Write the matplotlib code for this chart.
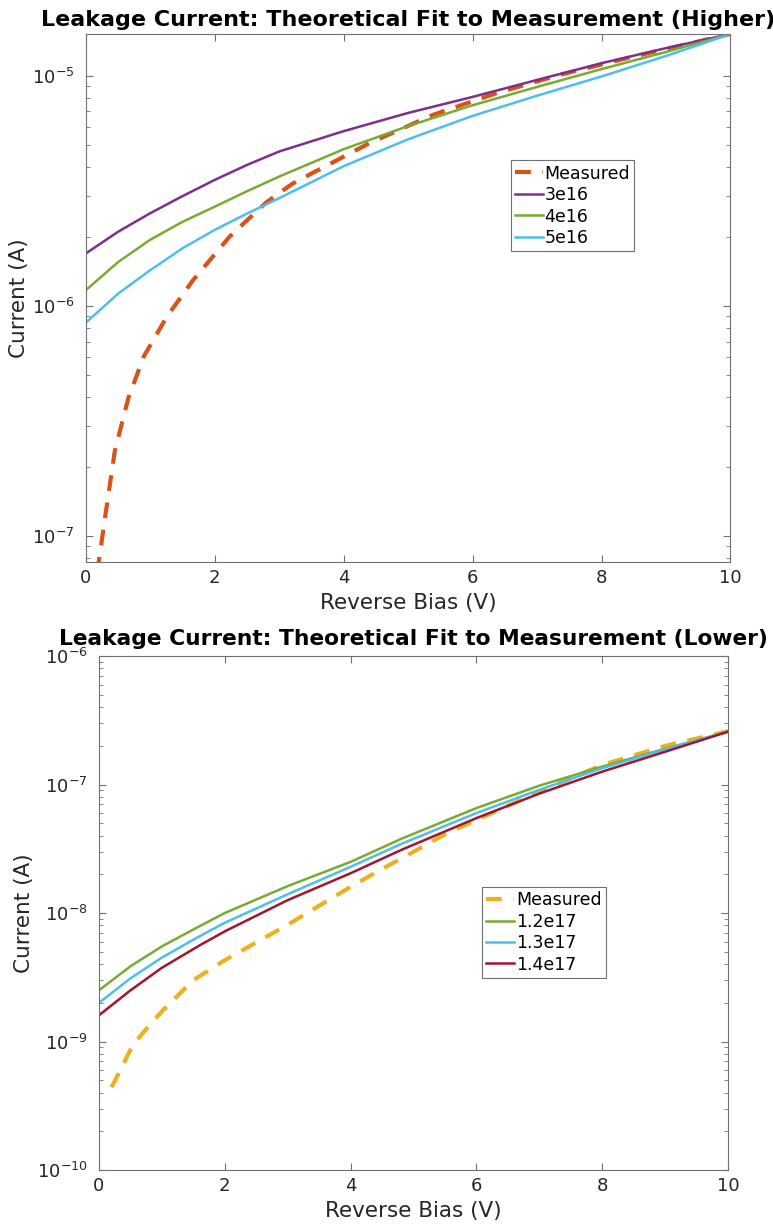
import numpy as np
import matplotlib
matplotlib.use('Agg')
import matplotlib.pyplot as plt
from matplotlib.ticker import LogLocator, LogFormatterSciNotation, NullFormatter

# ---- data ----
# upper panel (higher doping)
v_meas_hi = [0.12, 0.2, 0.3, 0.45, 0.66, 0.9, 1.25, 1.66, 2.23, 2.8, 3.2, 3.5,
             4.4, 5.38, 6.37, 7.35, 8.48, 10.0]
i_meas_hi = [4.0e-8, 7.7e-8, 1.21e-7, 2.34e-7, 3.98e-7, 6.03e-7, 8.91e-7, 1.29e-6, 2.0e-6,
             2.82e-6, 3.39e-6, 3.76e-6, 5.1e-6, 6.76e-6, 8.41e-6, 1.01e-5, 1.21e-5, 1.52e-5]

v_fit_hi = [0, 0.5, 1, 1.5, 2, 2.5, 3, 4, 5, 6, 7, 8, 9, 10]
i_3e16 = [1.69e-6, 2.1e-6, 2.53e-6, 3.0e-6, 3.53e-6, 4.1e-6, 4.69e-6, 5.75e-6, 6.9e-6,
          8.1e-6, 9.6e-6, 1.135e-5, 1.32e-5, 1.52e-5]
i_4e16 = [1.17e-6, 1.55e-6, 1.94e-6, 2.32e-6, 2.7e-6, 3.15e-6, 3.65e-6, 4.8e-6, 6.05e-6,
          7.45e-6, 8.95e-6, 1.07e-5, 1.27e-5, 1.52e-5]
i_5e16 = [8.45e-7, 1.13e-6, 1.43e-6, 1.78e-6, 2.14e-6, 2.52e-6, 2.94e-6, 4.05e-6, 5.3e-6,
          6.7e-6, 8.2e-6, 9.94e-6, 1.22e-5, 1.52e-5]

# lower panel (lower doping)
v_meas_lo = [0.2, 0.54, 0.7, 1.02, 1.5, 2, 3, 4, 4.5, 5, 5.5, 6, 7, 8, 9, 10]
i_meas_lo = [4.4e-10, 9.4e-10, 1.17e-9, 1.76e-9, 3.0e-9, 4.3e-9, 8.1e-9, 1.6e-8, 2.2e-8,
             3.0e-8, 4.1e-8, 5.3e-8, 8.8e-8, 1.42e-7, 2.0e-7, 2.6e-7]

v_fit_lo = [0, 0.5, 1, 1.6, 2, 3, 4, 4.8, 6, 7, 8, 9, 10]
i_12e17 = [2.5e-9, 3.85e-9, 5.5e-9, 7.9e-9, 1.0e-8, 1.62e-8, 2.5e-8, 3.77e-8, 6.56e-8,
           9.8e-8, 1.38e-7, 1.9e-7, 2.58e-7]
i_13e17 = [2.0e-9, 3.1e-9, 4.5e-9, 6.6e-9, 8.4e-9, 1.4e-8, 2.29e-8, 3.44e-8, 6.0e-8,
           9.1e-8, 1.34e-7, 1.88e-7, 2.58e-7]
i_14e17 = [1.6e-9, 2.5e-9, 3.75e-9, 5.6e-9, 7.2e-9, 1.26e-8, 2.04e-8, 3.09e-8, 5.48e-8,
           8.5e-8, 1.26e-7, 1.8e-7, 2.58e-7]

x_ticks = [0, 2, 4, 6, 8, 10]

c_orange = '#D95319'
c_purple = '#7E2F8E'
c_green = '#77AC30'
c_cyan = '#4DBEEE'
c_yellow = '#EDB120'
c_red = '#A2142F'
txt = '#262626'
edge = '#707070'

plt.rcParams['font.family'] = ['DejaVu Sans']

fig = plt.figure(figsize=(7.73, 12.28), dpi=100)
ax1 = fig.add_axes([0.111, 0.5423, 0.834, 0.430])
ax2 = fig.add_axes([0.128, 0.0472, 0.814, 0.4186])


def style(ax, ylim):
    ax.set_yscale('log')
    ax.set_xlim(0, 10)
    ax.set_ylim(*ylim)
    ax.set_xticks(x_ticks)
    ax.yaxis.set_major_locator(LogLocator(base=10, numticks=20))
    ax.yaxis.set_minor_locator(LogLocator(base=10, subs=np.arange(2, 10), numticks=20))
    ax.yaxis.set_major_formatter(LogFormatterSciNotation())
    ax.yaxis.set_minor_formatter(NullFormatter())
    ax.tick_params(which='both', direction='in', top=True, right=True,
                   colors=edge, labelcolor=txt, labelsize=13)
    ax.tick_params(which='major', length=5, width=0.8)
    ax.tick_params(which='minor', length=3, width=0.6)
    ax.tick_params(axis='x', pad=5)
    ax.tick_params(axis='y', pad=8)
    for s in ax.spines.values():
        s.set_color(edge)
        s.set_linewidth(0.8)
    ax.set_xlabel('Reverse Bias (V)', fontsize=15.5, color=txt, labelpad=4)
    ax.set_ylabel('Current (A)', fontsize=15.5, color=txt, labelpad=2)


dash = (0, (3.8, 2.8))

ax1.plot(v_meas_hi, i_meas_hi, color=c_orange, lw=3, linestyle=dash, label='Measured')
ax1.plot(v_fit_hi, i_3e16, color=c_purple, lw=1.8, label='3e16')
ax1.plot(v_fit_hi, i_4e16, color=c_green, lw=1.8, label='4e16')
ax1.plot(v_fit_hi, i_5e16, color=c_cyan, lw=1.8, label='5e16')
style(ax1, (7.7e-8, 1.52e-5))
ax1.set_title('Leakage Current: Theoretical Fit to Measurement (Higher)',
              fontsize=16, fontweight='bold', pad=6)
leg1 = ax1.legend(loc='upper left', bbox_to_anchor=(0.659, 0.761), fontsize=12.5,
                  frameon=True, fancybox=False, framealpha=1, edgecolor=edge,
                  handlelength=1.6, handletextpad=0.1, borderpad=0.25, labelspacing=0.2,
                  borderaxespad=0)
leg1.get_frame().set_linewidth(0.8)

ax2.plot(v_meas_lo, i_meas_lo, color=c_yellow, lw=3, linestyle=dash, label='Measured')
ax2.plot(v_fit_lo, i_12e17, color=c_green, lw=1.8, label='1.2e17')
ax2.plot(v_fit_lo, i_13e17, color=c_cyan, lw=1.8, label='1.3e17')
ax2.plot(v_fit_lo, i_14e17, color=c_red, lw=1.8, label='1.4e17')
style(ax2, (1e-10, 1e-6))
ax2.set_title('Leakage Current: Theoretical Fit to Measurement (Lower)',
              fontsize=15.7, fontweight='bold', pad=8)
leg2 = ax2.legend(loc='upper left', bbox_to_anchor=(0.609, 0.551), fontsize=12.5,
                  frameon=True, fancybox=False, framealpha=1, edgecolor=edge,
                  handlelength=1.6, handletextpad=0.1, borderpad=0.25, labelspacing=0.2,
                  borderaxespad=0)
leg2.get_frame().set_linewidth(0.8)

fig.savefig('out.png', dpi=100)
